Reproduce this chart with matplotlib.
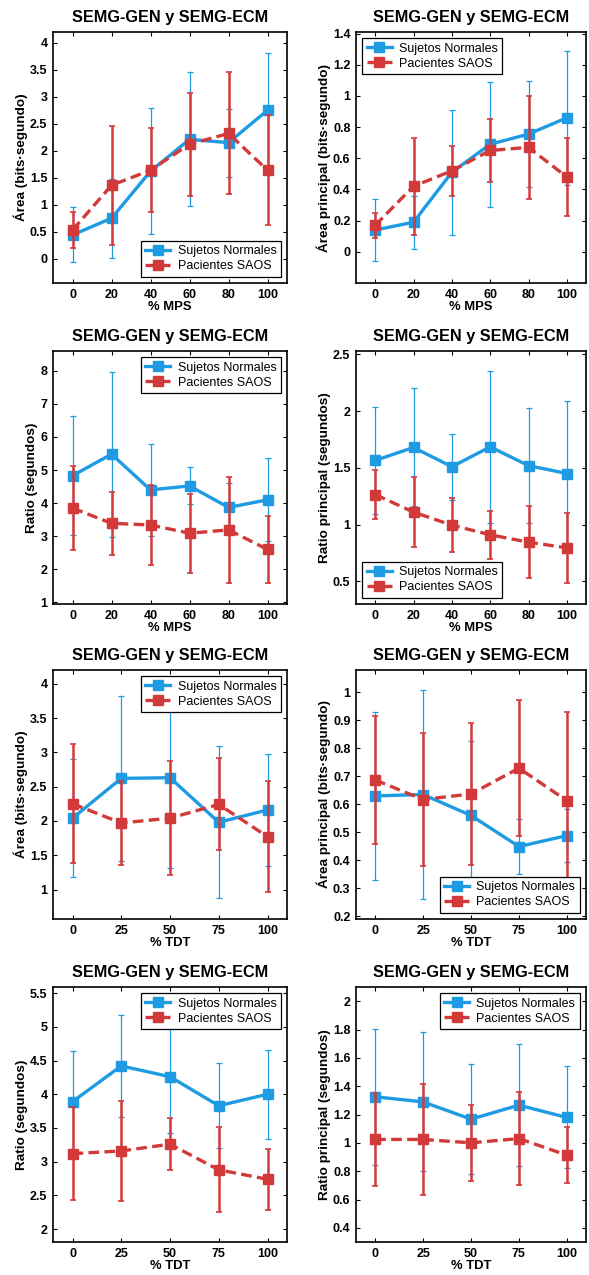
import matplotlib
matplotlib.use("Agg")
import matplotlib.pyplot as plt
from matplotlib.ticker import FuncFormatter
from matplotlib.lines import Line2D
import numpy as np

plt.rcParams['font.family'] = ['Liberation Sans', 'DejaVu Sans']

# ---- data ----
mps = [0, 20, 40, 60, 80, 100]
tdt = [0, 25, 50, 75, 100]

area_mps_normales = [0.44, 0.75, 1.62, 2.21, 2.15, 2.75]
area_mps_normales_sd = [0.51, 0.73, 1.17, 1.24, 0.63, 1.07]
area_mps_saos = [0.53, 1.36, 1.64, 2.12, 2.32, 1.64]
area_mps_saos_sd = [0.34, 1.10, 0.78, 0.95, 1.13, 1.02]

areap_mps_normales = [0.14, 0.19, 0.51, 0.69, 0.755, 0.86]
areap_mps_normales_sd = [0.20, 0.17, 0.40, 0.40, 0.34, 0.43]
areap_mps_saos = [0.17, 0.42, 0.52, 0.65, 0.67, 0.48]
areap_mps_saos_sd = [0.08, 0.31, 0.16, 0.20, 0.33, 0.25]

ratio_mps_normales = [4.83, 5.48, 4.40, 4.52, 3.87, 4.10]
ratio_mps_normales_sd = [1.80, 2.50, 1.38, 0.56, 0.75, 1.26]
ratio_mps_saos = [3.85, 3.39, 3.34, 3.09, 3.19, 2.60]
ratio_mps_saos_sd = [1.27, 0.96, 1.20, 1.19, 1.60, 1.02]

ratiop_mps_normales = [1.565, 1.68, 1.51, 1.685, 1.52, 1.45]
ratiop_mps_normales_sd = [0.47, 0.52, 0.29, 0.67, 0.51, 0.64]
ratiop_mps_saos = [1.265, 1.11, 0.995, 0.91, 0.845, 0.795]
ratiop_mps_saos_sd = [0.215, 0.31, 0.24, 0.21, 0.32, 0.31]

area_tdt_normales = [2.04, 2.62, 2.63, 1.98, 2.16]
area_tdt_normales_sd = [0.86, 1.20, 1.31, 1.11, 0.82]
area_tdt_saos = [2.25, 1.97, 2.04, 2.24, 1.77]
area_tdt_saos_sd = [0.87, 0.61, 0.83, 0.67, 0.81]

areap_tdt_normales = [0.63, 0.635, 0.56, 0.449, 0.488]
areap_tdt_normales_sd = [0.30, 0.375, 0.265, 0.098, 0.095]
areap_tdt_saos = [0.687, 0.617, 0.637, 0.729, 0.613]
areap_tdt_saos_sd = [0.23, 0.237, 0.255, 0.243, 0.316]

ratio_tdt_normales = [3.89, 4.42, 4.26, 3.83, 4.00]
ratio_tdt_normales_sd = [0.75, 0.755, 0.83, 0.63, 0.66]
ratio_tdt_saos = [3.12, 3.16, 3.26, 2.88, 2.74]
ratio_tdt_saos_sd = [0.69, 0.745, 0.39, 0.63, 0.45]

ratiop_tdt_normales = [1.325, 1.289, 1.167, 1.266, 1.179]
ratiop_tdt_normales_sd = [0.48, 0.49, 0.39, 0.43, 0.36]
ratiop_tdt_saos = [1.024, 1.024, 1.00, 1.03, 0.913]
ratiop_tdt_saos_sd = [0.33, 0.39, 0.27, 0.33, 0.20]

title = "SEMG-GEN y SEMG-ECM"
label_normales = "Sujetos Normales"
label_saos = "Pacientes SAOS"

BLUE = "#1E9BE3"
RED = "#D23A3A"
RED_DASH = (0, (3.2, 1.6))

W, H = 589, 1275
fig = plt.figure(figsize=(W / 100, H / 100), dpi=100)

cols = [(53, 287), (356, 586)]
rows = [(32, 283), (351, 604), (670, 919), (987, 1242)]


def make_ax(r, c):
    x0, x1 = cols[c]
    y0, y1 = rows[r]
    return fig.add_axes([x0 / W, 1 - y1 / H, (x1 - x0) / W, (y1 - y0) / H])


panels = [
    # row, col, x, xlabel, ylabel, N, Nsd, S, Ssd, ylim, yticks, legend loc
    (0, 0, mps, "% MPS", "Área (bits·segundo)",
     area_mps_normales, area_mps_normales_sd, area_mps_saos, area_mps_saos_sd,
     (-0.45, 4.2), np.arange(0, 4.01, 0.5), "lower right"),
    (0, 1, mps, "% MPS", "Área principal (bits·segundo)",
     areap_mps_normales, areap_mps_normales_sd, areap_mps_saos, areap_mps_saos_sd,
     (-0.2, 1.41), np.arange(0, 1.41, 0.2), "upper left"),
    (1, 0, mps, "% MPS", "Ratio (segundos)",
     ratio_mps_normales, ratio_mps_normales_sd, ratio_mps_saos, ratio_mps_saos_sd,
     (0.95, 8.6), np.arange(1, 8.01, 1), "upper right"),
    (1, 1, mps, "% MPS", "Ratio principal (segundos)",
     ratiop_mps_normales, ratiop_mps_normales_sd, ratiop_mps_saos, ratiop_mps_saos_sd,
     (0.3, 2.53), np.arange(0.5, 2.51, 0.5), "lower left"),
    (2, 0, tdt, "% TDT", "Área (bits·segundo)",
     area_tdt_normales, area_tdt_normales_sd, area_tdt_saos, area_tdt_saos_sd,
     (0.57, 4.2), np.arange(1, 4.01, 0.5), "upper right"),
    (2, 1, tdt, "% TDT", "Área principal (bits·segundo)",
     areap_tdt_normales, areap_tdt_normales_sd, areap_tdt_saos, areap_tdt_saos_sd,
     (0.19, 1.08), np.arange(0.2, 1.01, 0.1), "lower right"),
    (3, 0, tdt, "% TDT", "Ratio (segundos)",
     ratio_tdt_normales, ratio_tdt_normales_sd, ratio_tdt_saos, ratio_tdt_saos_sd,
     (1.81, 5.59), np.arange(2, 5.51, 0.5), "upper right"),
    (3, 1, tdt, "% TDT", "Ratio principal (segundos)",
     ratiop_tdt_normales, ratiop_tdt_normales_sd, ratiop_tdt_saos, ratiop_tdt_saos_sd,
     (0.3, 2.1), np.arange(0.4, 2.01, 0.2), "upper right"),
]

fmt = FuncFormatter(lambda v, p: ("%g" % round(v, 4)))

legend_handles = [
    Line2D([], [], color=BLUE, lw=2.4, marker="s", ms=6.5, label=label_normales),
    Line2D([], [], color=RED, lw=2.4, ls=RED_DASH, marker="s", ms=6.5, label=label_saos),
]

for (r, c, x, xl, yl, n, nsd, s, ssd, ylim, yt, loc) in panels:
    ax = make_ax(r, c)
    ax.errorbar(x, n, yerr=nsd, color=BLUE, lw=2.4, marker="s", ms=6.5,
                elinewidth=0.9, capsize=2.5, capthick=0.9, zorder=3)
    ax.errorbar(x, s, yerr=ssd, color=RED, lw=2.4, ls=RED_DASH,
                marker="s", ms=6.5, elinewidth=1.8, capsize=2.5, capthick=1.2,
                zorder=4)
    ax.set_xlim(-10, 110)
    ax.set_ylim(*ylim)
    ax.set_xticks(x)
    ax.set_yticks(yt)
    ax.yaxis.set_major_formatter(fmt)
    ax.tick_params(direction="in", length=3, width=0.8, top=True, right=True,
                   labelsize=9, pad=4)
    for lab in ax.get_xticklabels() + ax.get_yticklabels():
        lab.set_fontweight("bold")
    for sp in ax.spines.values():
        sp.set_linewidth(1.2)
    ax.set_title(title, fontsize=11.7, fontweight="bold", pad=7)
    ax.set_xlabel(xl, fontsize=9.4, fontweight="bold", labelpad=0)
    ax.set_ylabel(yl, fontsize=9.7, fontweight="bold", labelpad=1.5)
    leg = ax.legend(handles=legend_handles, loc=loc, fontsize=9, fancybox=False,
                    framealpha=1, edgecolor="black", handlelength=2.0,
                    borderaxespad=0.5, labelspacing=0.25, borderpad=0.35,
                    handletextpad=0.6)
    leg.get_frame().set_linewidth(0.9)

fig.savefig("out.png", dpi=100)
